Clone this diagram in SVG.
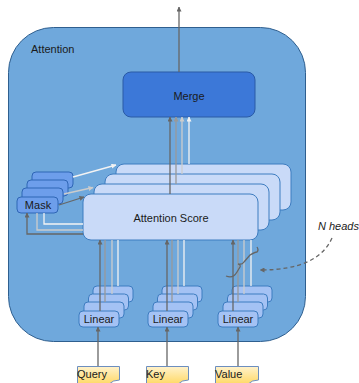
<svg xmlns="http://www.w3.org/2000/svg" width="359" height="383" viewBox="0 0 359 383">
<style>
text{font-family:"Liberation Sans",Arial,sans-serif;font-size:11px;fill:#1a1a1a}
.c{text-anchor:middle}
.score{fill:#c9daf8;stroke:#3d7cc0;stroke-width:1}
.mask{fill:#6d9eeb;stroke:#2f66b5;stroke-width:1}
.lin{fill:#a4c2f4;stroke:#3d7cc0;stroke-width:1}
.note{fill:url(#ng);stroke:#6c8ebf;stroke-width:1}
.ln{fill:none;stroke-width:1.3}
.d{stroke:#666666}.g{stroke:#999999}.l{stroke:#cccccc}.w{stroke:#f3f3f3}
</style>
<defs>
<linearGradient id="ng" x1="0" y1="0" x2="0" y2="1"><stop offset="0" stop-color="#fff2cc"/><stop offset="1" stop-color="#ffd966"/></linearGradient>
<marker id="ad" viewBox="0 0 10 10" refX="9" refY="5" markerWidth="5" markerHeight="5" markerUnits="userSpaceOnUse" orient="auto"><path d="M0,0 L10,5 L0,10 Z" fill="#666666"/></marker>
<marker id="ag" viewBox="0 0 10 10" refX="9" refY="5" markerWidth="5" markerHeight="5" markerUnits="userSpaceOnUse" orient="auto"><path d="M0,0 L10,5 L0,10 Z" fill="#999999"/></marker>
<marker id="al" viewBox="0 0 10 10" refX="9" refY="5" markerWidth="5" markerHeight="5" markerUnits="userSpaceOnUse" orient="auto"><path d="M0,0 L10,5 L0,10 Z" fill="#cccccc"/></marker>
<marker id="aw" viewBox="0 0 10 10" refX="9" refY="5" markerWidth="5" markerHeight="5" markerUnits="userSpaceOnUse" orient="auto"><path d="M0,0 L10,5 L0,10 Z" fill="#f3f3f3"/></marker>
</defs>
<rect width="359" height="383" fill="#ffffff"/>

<g id="attention">
<rect x="8.5" y="27.5" width="297" height="314" rx="45" fill="#6fa8dc" stroke="#2f5f8f" stroke-width="1"/>
<text x="31" y="53">Attention</text>
</g>

<g id="merge">
<rect x="123" y="72" width="132" height="45" rx="8" fill="#3c78d8" stroke="#2a5aa5" stroke-width="1"/>
<text class="c" x="189" y="100">Merge</text>
</g>

<g id="attention-score">
<rect class="score" x="116" y="164" width="175" height="46" rx="8"/>
<rect class="score" x="105" y="174" width="175" height="46" rx="8"/>
<rect class="score" x="94" y="184" width="175" height="46" rx="8"/>
<rect class="score" x="83" y="194" width="175" height="46" rx="8"/>
<text class="c" x="171" y="222">Attention Score</text>
</g>

<g id="mask">
<rect class="mask" x="32" y="172" width="41" height="16" rx="4"/>
<rect class="mask" x="27" y="180" width="41" height="16" rx="4"/>
<rect class="mask" x="22" y="188" width="41" height="16" rx="4"/>
<rect class="mask" x="17" y="197" width="41" height="16" rx="4"/>
<text class="c" x="38" y="209">Mask</text>
</g>

<g id="linear-query">
<rect class="lin" x="93" y="286" width="40" height="16" rx="4"/>
<rect class="lin" x="88.5" y="294" width="40" height="16" rx="4"/>
<rect class="lin" x="84" y="302" width="40" height="16" rx="4"/>
<rect class="lin" x="79" y="311" width="40" height="16" rx="4"/>
<text class="c" x="99" y="323">Linear</text>
</g>
<g id="linear-key">
<rect class="lin" x="162" y="286" width="40" height="16" rx="4"/>
<rect class="lin" x="157.5" y="294" width="40" height="16" rx="4"/>
<rect class="lin" x="153" y="302" width="40" height="16" rx="4"/>
<rect class="lin" x="148" y="311" width="40" height="16" rx="4"/>
<text class="c" x="168" y="323">Linear</text>
</g>
<g id="linear-value">
<rect class="lin" x="232" y="286" width="40" height="16" rx="4"/>
<rect class="lin" x="227.5" y="294" width="40" height="16" rx="4"/>
<rect class="lin" x="223" y="302" width="40" height="16" rx="4"/>
<rect class="lin" x="218" y="311" width="40" height="16" rx="4"/>
<text class="c" x="238" y="323">Linear</text>
</g>

<g id="query">
<path class="note" d="M77.5,366.5 H119.5 V380 Q113,380 109,384 H77.5 Z"/>
<text x="77" y="378">Query</text>
</g>
<g id="key">
<path class="note" d="M146.5,366.5 H188.5 V380 Q182,380 178,384 H146.5 Z"/>
<text x="146" y="378">Key</text>
</g>
<g id="value">
<path class="note" d="M215.5,366.5 H258.5 V380 Q252,380 248,384 H215.5 Z"/>
<text x="215" y="378">Value</text>
</g>

<g id="connectors">
<path class="ln d" d="M179,72 V7" marker-end="url(#ad)"/>
<path class="ln d" d="M170,194 V117" marker-end="url(#ad)"/>
<path class="ln g" d="M176,184 V117" marker-end="url(#ag)"/>
<path class="ln l" d="M182,174 V117" marker-end="url(#al)"/>
<path class="ln w" d="M189,164 V117" marker-end="url(#aw)"/>

<path class="ln d" d="M59,205 L84,197" marker-end="url(#ad)"/>
<path class="ln l" d="M64,194 L93,187.5" marker-end="url(#al)"/>
<path class="ln w" d="M73,177 L116,165" marker-end="url(#aw)"/>

<path class="ln d" d="M83,234 H27 V213" marker-end="url(#ad)"/>
<path class="ln l" d="M83,230 H37 V213"/>
<path class="ln w" d="M83,224 H44 V213"/>

<path class="ln d" d="M100,311 V240" marker-end="url(#ad)"/>
<path class="ln g" d="M105,302 V240"/>
<path class="ln l" d="M112,294 V240"/>
<path class="ln w" d="M118,286 V240"/>

<path class="ln d" d="M167,311 V240" marker-end="url(#ad)"/>
<path class="ln g" d="M172,302 V240"/>
<path class="ln l" d="M178,294 V240"/>
<path class="ln w" d="M184,286 V240"/>

<path class="ln d" d="M233,311 V240" marker-end="url(#ad)"/>
<path class="ln g" d="M238,302 V240"/>
<path class="ln l" d="M244,294 V240"/>
<path class="ln w" d="M251,286 V240"/>

<path class="ln d" d="M98,366 V327" marker-end="url(#ad)"/>
<path class="ln d" d="M167,366 V327" marker-end="url(#ad)"/>
<path class="ln d" d="M238,366 V327" marker-end="url(#ad)"/>

<path class="ln d" stroke-width="1" d="M226,276 Q233,279 237,272 L240,267 Q241,265 238,264 Q242,265 244,262 L250,255 Q255,252 257,252 Q259,250 257,247"/>
<path class="ln d" stroke-width="1" stroke-dasharray="4,3" d="M332,238 Q318,270 260,270" marker-end="url(#ad)"/>
</g>
<text x="318" y="230" font-style="italic">N heads</text>
</svg>
